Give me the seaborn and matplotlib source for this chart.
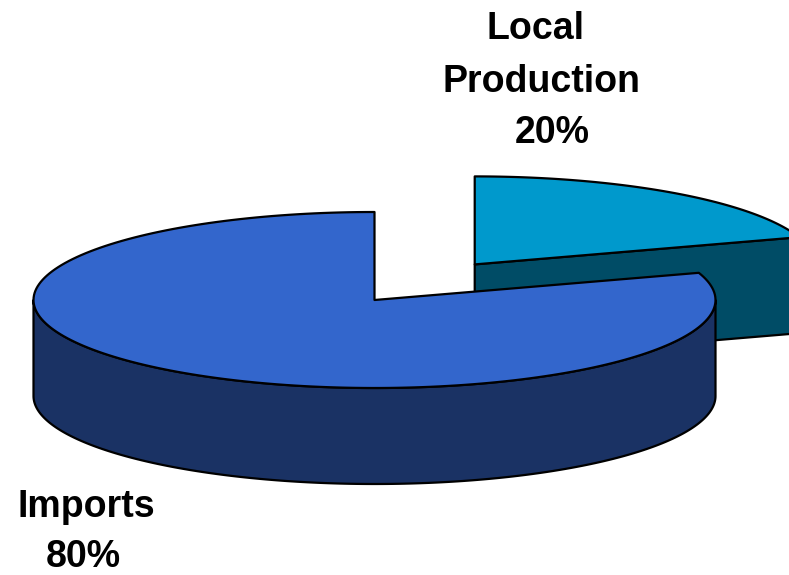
import numpy as np
import matplotlib
matplotlib.use("Agg")
import matplotlib.pyplot as plt
from matplotlib.patches import Polygon
import seaborn as sns

# ---- data ----
labels = ["Imports", "Local Production"]
values = [80, 20]
explode = [0.0, 0.5]
top_colors = ["#3366CC", "#0099CC"]
side_colors = ["#1A3264", "#004C66"]

sns.set_theme(style="white")
plt.rcParams["font.family"] = ["Liberation Sans", "DejaVu Sans"]

W, H = 789, 575
fig = plt.figure(figsize=(W / 100, H / 100), dpi=100)
ax = fig.add_axes([0, 0, 1, 1])
ax.set_xlim(0, W)
ax.set_ylim(H, 0)
ax.axis("off")

# geometry of the projected pie (pixel units)
cx, cy = 374.5, 300.0
a, b = 341.0, 88.0
depth = 96.0
start = 90.0
lw = 1.6

fr = np.array(values, dtype=float) / sum(values)
bounds = start + 360 * np.concatenate([[0], np.cumsum(fr)])


def pt(t, ox, oy, dz=0.0):
    r = np.radians(t)
    return ox + a * np.cos(r), oy - b * np.sin(r) + dz


def arc(t0, t1, ox, oy, dz=0.0, n=200):
    ts = np.linspace(t0, t1, n)
    r = np.radians(ts)
    return np.column_stack([ox + a * np.cos(r), oy - b * np.sin(r) + dz])


slices = []
for i in range(len(values)):
    t0, t1 = bounds[i], bounds[i + 1]
    mid = np.radians((t0 + t1) / 2)
    ox = cx + explode[i] * a * np.cos(mid)
    oy = cy - explode[i] * b * np.sin(mid)
    slices.append((i, t0, t1, ox, oy, np.sin(mid)))

# back slices first
for i, t0, t1, ox, oy, s in sorted(slices, key=lambda z: -z[5]):
    # radial walls
    for th, side in ((t0, "start"), (t1, "end")):
        c = np.cos(np.radians(th))
        visible = c > 1e-6 if side == "start" else c < -1e-6
        if visible:
            px, py = pt(th, ox, oy)
            poly = [(ox, oy), (px, py), (px, py + depth), (ox, oy + depth)]
            ax.add_patch(Polygon(poly, closed=True, facecolor=side_colors[i],
                                 edgecolor="black", lw=lw, joinstyle="round"))
    # outer (front) wall
    for k in (-1, 0, 1):
        lo = max(t0, 180 + 360 * k)
        hi = min(t1, 360 + 360 * k)
        if hi > lo:
            topa = arc(lo, hi, ox, oy)
            bota = arc(hi, lo, ox, oy, depth)
            ax.add_patch(Polygon(np.vstack([topa, bota]), closed=True,
                                 facecolor=side_colors[i], edgecolor="black",
                                 lw=lw, joinstyle="round"))
    # top face
    top = np.vstack([[ox, oy], arc(t0, t1, ox, oy), [ox, oy]])
    ax.add_patch(Polygon(top, closed=True, facecolor=top_colors[i],
                         edgecolor="black", lw=lw, joinstyle="round"))

fs = 27
kw = dict(fontsize=fs, fontweight="bold", color="black", ha="center", va="baseline")
ax.text(536, 39, "Local", **kw)
ax.text(542, 92, "Production", **kw)
ax.text(552, 143, f"{values[1]}%", **kw)
ax.text(86, 517, labels[0], **kw)
ax.text(83, 567, f"{values[0]}%", **kw)

fig.savefig("out.png", dpi=100)
